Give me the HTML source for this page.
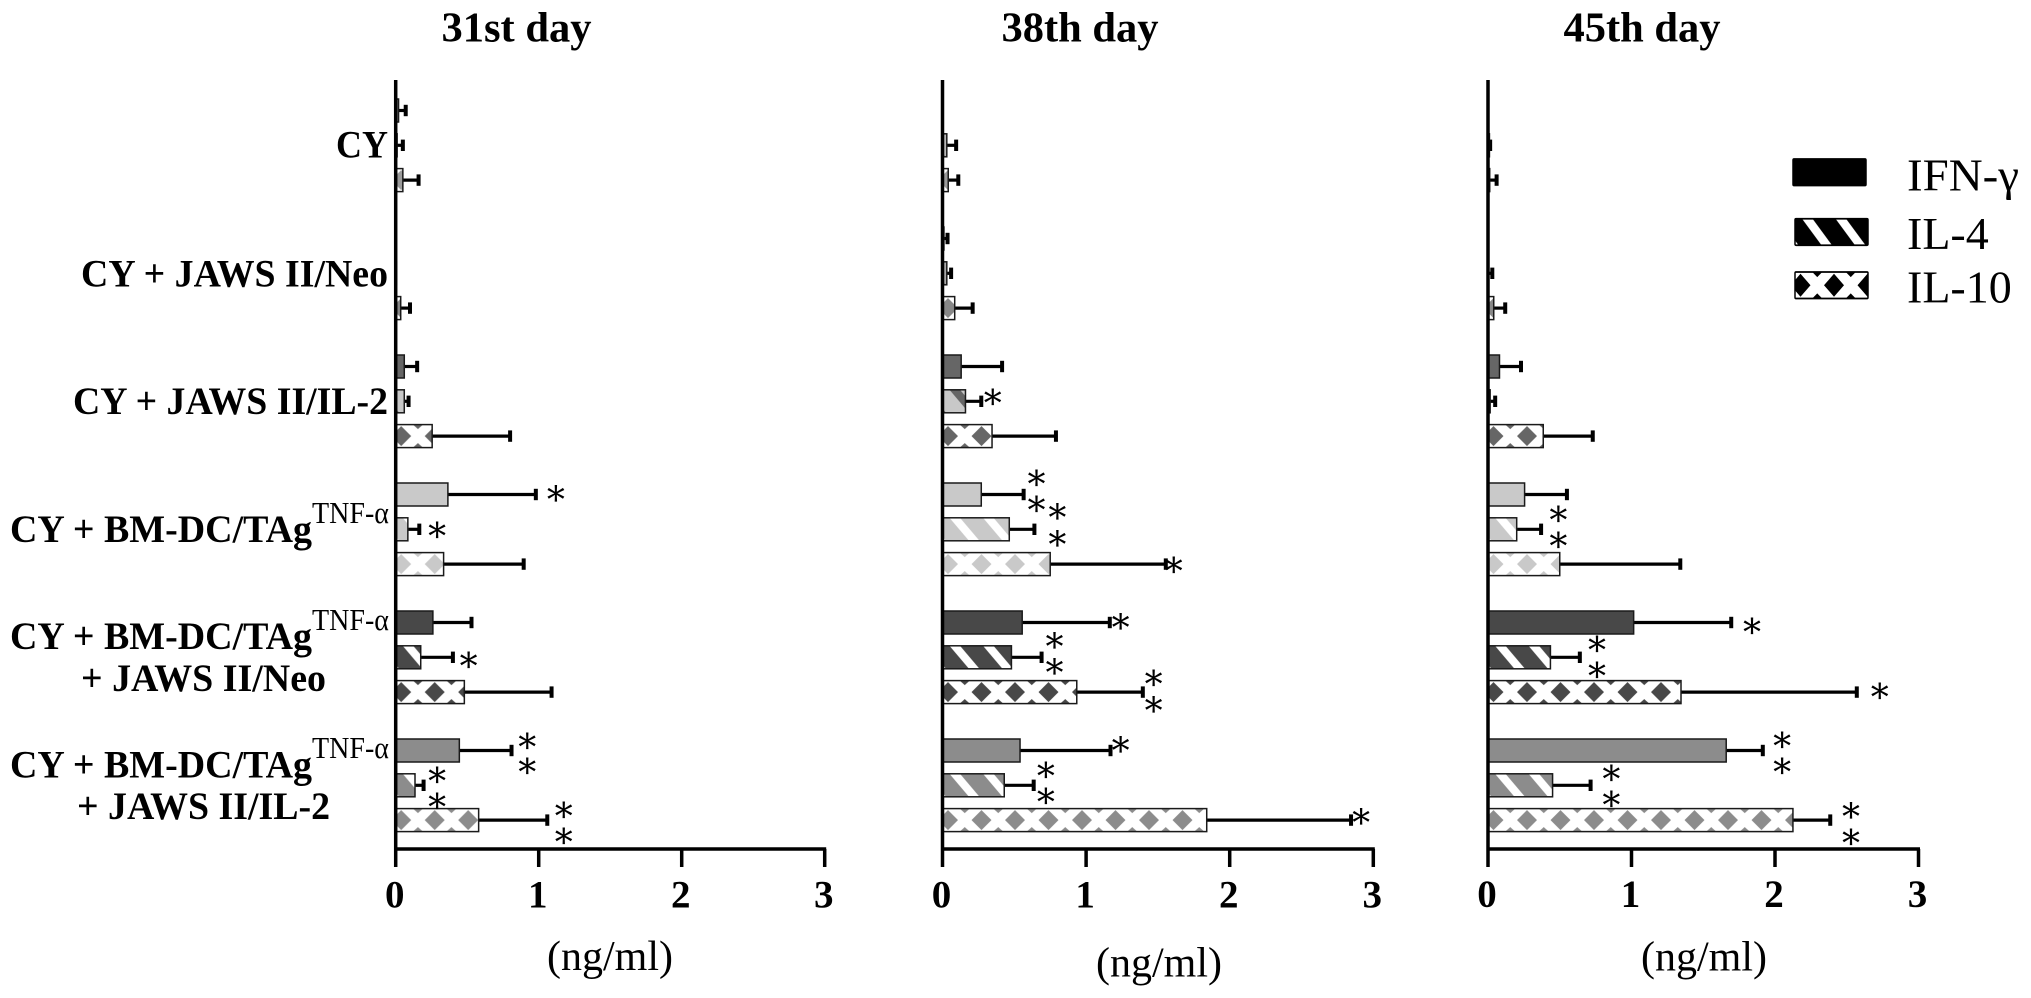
<!DOCTYPE html>
<html lang="en">
<head>
<meta charset="utf-8">
<title>Cytokine production on days 31, 38 and 45</title>
<style>
html,body{margin:0;padding:0;background:#fff;width:2031px;height:998px;overflow:hidden}
svg{display:block}
text{font-family:"Liberation Serif","Times New Roman",serif;fill:#000}
.b{font-weight:bold}
.star{font-family:"DejaVu Serif","Liberation Serif",serif}
</style>
</head>
<body>
<svg id="chart" xmlns="http://www.w3.org/2000/svg" width="2031" height="998" viewBox="0 0 2031 998">
<defs id="defs"></defs>
<rect width="2031" height="998" fill="#fff"/>

<g font-size="39">
<text class="b" x="336" y="157.5" textLength="52" lengthAdjust="spacingAndGlyphs">CY</text>
<text class="b" x="81" y="286.7" textLength="307" lengthAdjust="spacingAndGlyphs">CY + JAWS II/Neo</text>
<text class="b" x="73" y="414" textLength="315" lengthAdjust="spacingAndGlyphs">CY + JAWS II/IL-2</text>
<text class="b" x="10" y="542" textLength="302" lengthAdjust="spacingAndGlyphs">CY + BM-DC/TAg</text>
<text x="312" y="523" font-size="31" textLength="77" lengthAdjust="spacingAndGlyphs">TNF-α</text>
<text class="b" x="10" y="649" textLength="302" lengthAdjust="spacingAndGlyphs">CY + BM-DC/TAg</text>
<text x="312" y="630" font-size="31" textLength="77" lengthAdjust="spacingAndGlyphs">TNF-α</text>
<text class="b" x="81" y="691" textLength="245" lengthAdjust="spacingAndGlyphs">+ JAWS II/Neo</text>
<text class="b" x="10" y="777.5" textLength="302" lengthAdjust="spacingAndGlyphs">CY + BM-DC/TAg</text>
<text x="312" y="758" font-size="31" textLength="77" lengthAdjust="spacingAndGlyphs">TNF-α</text>
<text class="b" x="77" y="819" textLength="253" lengthAdjust="spacingAndGlyphs">+ JAWS II/IL-2</text>
</g>

<g id="panels"></g>

<g id="legend">
<text x="1907" y="190.7" font-size="46" textLength="112" lengthAdjust="spacingAndGlyphs">IFN-γ</text>
<text x="1907" y="249" font-size="46">IL-4</text>
<text x="1907" y="302.7" font-size="46">IL-10</text>
</g>
</svg>

<script>
const NS = 'http://www.w3.org/2000/svg';

/* ---- data (ng/ml) ---- */
const categories = ['CY', 'CY + JAWS II/Neo', 'CY + JAWS II/IL-2', 'CY + BM-DC/TAg TNF-a', 'CY + BM-DC/TAg TNF-a + JAWS II/Neo', 'CY + BM-DC/TAg TNF-a + JAWS II/IL-2'];
const seriesNames = ['IFN-gamma', 'IL-4', 'IL-10'];
const tickValues = [0, 1, 2, 3];
const panelTitles = ['31st day', '38th day', '45th day'];

const ifn31 = [0.02, 0, 0.06, 0.365, 0.26, 0.445];
const ifn31Upper = [0.07, 0, 0.15, 0.98, 0.53, 0.81];
const il4d31 = [0.01, 0.005, 0.06, 0.085, 0.175, 0.135];
const il4d31Upper = [0.05, 0.005, 0.09, 0.165, 0.40, 0.195];
const il10d31 = [0.05, 0.035, 0.255, 0.335, 0.48, 0.58];
const il10d31Upper = [0.16, 0.10, 0.80, 0.895, 1.09, 1.06];

const ifn38 = [0, 0.01, 0.13, 0.27, 0.555, 0.54];
const ifn38Upper = [0, 0.035, 0.415, 0.565, 1.165, 1.17];
const il4d38 = [0.03, 0.03, 0.16, 0.465, 0.48, 0.43];
const il4d38Upper = [0.095, 0.06, 0.27, 0.64, 0.69, 0.635];
const il10d38 = [0.04, 0.085, 0.345, 0.75, 0.935, 1.84];
const il10d38Upper = [0.11, 0.21, 0.79, 1.555, 1.395, 2.845];

const ifn45 = [0.005, 0, 0.08, 0.255, 1.015, 1.66];
const ifn45Upper = [0.005, 0, 0.23, 0.55, 1.695, 1.915];
const il4d45 = [0.01, 0.005, 0.015, 0.2, 0.435, 0.45];
const il4d45Upper = [0.015, 0.03, 0.05, 0.37, 0.64, 0.715];
const il10d45 = [0.012, 0.04, 0.385, 0.5, 1.345, 2.125];
const il10d45Upper = [0.06, 0.12, 0.73, 1.34, 2.57, 2.385];

/* significance marks: [group, fractional series row, ng/ml] */
const stars31 = [[3,0,1.12],[3,1.05,0.29],[4,1.1,0.51],[5,-0.25,0.92],[5,0.48,0.92],[5,0.73,0.29],[5,1.48,0.29],[5,1.74,1.175],[5,2.48,1.175]];
const stars38 = [[2,0.9,0.35],[3,-0.45,0.655],[3,0.3,0.655],[3,0.52,0.80],[3,1.29,0.80],[3,2.05,1.61],[4,0,1.24],[4,0.54,0.78],[4,1.29,0.78],[4,1.63,1.47],[4,2.39,1.47],[5,-0.14,1.24],[5,0.59,0.72],[5,1.34,0.72],[5,1.93,2.915]];
const stars45 = [[3,0.59,0.49],[3,1.34,0.49],[4,0.13,1.84],[4,0.64,0.76],[4,1.39,0.76],[4,2,2.73],[5,-0.27,2.05],[5,0.48,2.05],[5,0.67,0.86],[5,1.42,0.86],[5,1.76,2.53],[5,2.51,2.53]];

/* ---- layout ---- */
const groupColors = ['#9a9a9a', '#888888', '#666666', '#c9c9c9', '#484848', '#8c8c8c'];
const stripeBases = ['#b8b8b8', '#a8a8a8', '#c8c8c8', null, null, null];
const BAR_H = 23, GROUP_STEP = 128, SERIES_STEP = 34.8, TOP0 = 99;
const AXIS_TOP = 80, AXIS_Y = 849, TICK_END = 867, TILE = 33.5;

function make(tag, attrs, parent) {
  const el = document.createElementNS(NS, tag);
  for (const k in attrs) el.setAttribute(k, attrs[k]);
  if (parent) parent.appendChild(el);
  return el;
}
function barTop(g, s) { return TOP0 + GROUP_STEP * g + SERIES_STEP * s; }

const defs = document.getElementById('defs');
function addPatterns(key, color, stripeBase) {
  const st = make('pattern', {id: 'stripe-' + key, patternUnits: 'userSpaceOnUse', width: TILE, height: BAR_H}, defs);
  make('rect', {width: TILE, height: BAR_H, fill: stripeBase || color}, st);
  const stripeFill = stripeBase ? color : '#fff';
  make('polygon', {points: '7,0 17.5,0 37,23 26.5,23', fill: stripeFill}, st);
  make('polygon', {points: '-26.5,0 -16,0 3.5,23 -7,23', fill: stripeFill}, st);
  const di = make('pattern', {id: 'diamond-' + key, patternUnits: 'userSpaceOnUse', width: TILE, height: BAR_H}, defs);
  make('rect', {width: TILE, height: BAR_H, fill: '#fff'}, di);
  make('polygon', {points: '-4.5,11.5 5.5,1.5 15.5,11.5 5.5,21.5', fill: color}, di);
  make('polygon', {points: '29,11.5 39,1.5 49,11.5 39,21.5', fill: color}, di);
  make('polygon', {points: '17.25,0 22.25,4.5 27.25,0', fill: color}, di);
  make('polygon', {points: '17.25,23 22.25,18.5 27.25,23', fill: color}, di);
}
groupColors.forEach(function (c, i) { addPatterns(String(i), c, stripeBases[i]); });
addPatterns('legend', '#000', null);

function fillFor(seriesIndex, key) {
  if (seriesIndex === 0) return key === 'legend' ? '#000' : groupColors[key];
  return 'url(#' + (seriesIndex === 1 ? 'stripe-' : 'diamond-') + key + ')';
}

const panels = [
  {x0: 395.7, unit: 143.0, title: panelTitles[0], titleX: 516.5, labelY: 907.5, unitX: 610, unitY: 970, labelDx: -1, vals: [ifn31, il4d31, il10d31], uppers: [ifn31Upper, il4d31Upper, il10d31Upper], stars: stars31},
  {x0: 942.5, unit: 143.6, title: panelTitles[1], titleX: 1080, labelY: 907.5, unitX: 1159, unitY: 976.5, labelDx: -1, vals: [ifn38, il4d38, il10d38], uppers: [ifn38Upper, il4d38Upper, il10d38Upper], stars: stars38},
  {x0: 1488, unit: 143.5, title: panelTitles[2], titleX: 1642, labelY: 907, unitX: 1704, unitY: 970.5, labelDx: -1, vals: [ifn45, il4d45, il10d45], uppers: [ifn45Upper, il4d45Upper, il10d45Upper], stars: stars45}
];

const root = document.getElementById('panels');
panels.forEach(function (p) {
  const xs = function (v) { return p.x0 + v * p.unit; };
  const g = make('g', {}, root);
  
  

  const title = make('text', {x: p.titleX, y: 41.5, 'font-size': 42.5, 'font-weight': 'bold', 'text-anchor': 'middle'}, g);
  title.textContent = p.title;
  
  

  categories.forEach(function (cat, gi) {
    seriesNames.forEach(function (sn, si) {
      const val = p.vals[si][gi], up = p.uppers[si][gi];
      const top = barTop(gi, si), cy = top + BAR_H / 2;
      if (up > val) {
        const err = make('line', {x1: xs(val), x2: xs(up), y1: cy, y2: cy, stroke: '#000', 'stroke-width': 3.2}, g);
        
        
        const cap = make('line', {x1: xs(up), x2: xs(up), y1: cy - 5.7, y2: cy + 5.7, stroke: '#000', 'stroke-width': 4}, g);
        
        
      }
      const holder = make('g', {transform: 'translate(' + p.x0 + ',' + top + ')'}, g);
      const bar = make('rect', {x: 0, y: 0, width: Math.max(0, xs(val) - p.x0), height: BAR_H, fill: fillFor(si, gi), stroke: '#1a1a1a', 'stroke-width': 1.5}, holder);
      
      
    });
  });

  p.stars.forEach(function (s) {
    const cy = barTop(s[0], s[1]) + BAR_H / 2;
    const star = make('text', {class: 'star', x: xs(s[2]), y: cy + 18, 'font-size': 36, 'text-anchor': 'middle'}, g);
    star.textContent = '*';
    
    
  });

  const yAxis = make('line', {x1: p.x0, x2: p.x0, y1: AXIS_TOP, y2: TICK_END, stroke: '#000', 'stroke-width': 3.5}, g);
  
  
  const xAxis = make('line', {x1: p.x0, x2: xs(tickValues[tickValues.length - 1]) + 1.5, y1: AXIS_Y, y2: AXIS_Y, stroke: '#000', 'stroke-width': 3.5}, g);
  
  

  tickValues.forEach(function (t) {
    if (t > 0) {
      const tick = make('line', {x1: xs(t), x2: xs(t), y1: AXIS_Y, y2: TICK_END, stroke: '#000', 'stroke-width': 3.5}, g);
      
      
    }
    const lab = make('text', {x: xs(t) + p.labelDx, y: p.labelY, 'font-size': 39, 'font-weight': 'bold', 'text-anchor': 'middle'}, g);
    lab.textContent = String(t);
    
    
  });

  const unit = make('text', {x: p.unitX, y: p.unitY, 'font-size': 42, 'text-anchor': 'middle'}, g);
  unit.textContent = '(ng/ml)';
  
  
});

/* legend swatches */
const legend = document.getElementById('legend');
const swatchRows = [159, 218.7, 272];
seriesNames.forEach(function (sn, si) {
  const left = si === 0 ? 1793 : 1795;
  const holder = make('g', {transform: 'translate(' + left + ',' + swatchRows[si] + ') scale(1,' + (26.5 / BAR_H) + ')'}, legend);
  const sw = make('rect', {x: 0, y: 0, width: 73, height: BAR_H, fill: fillFor(si, 'legend'), stroke: '#000', 'stroke-width': 1.5, rx: 1}, holder);
  
  
});
</script>
</body>
</html>
